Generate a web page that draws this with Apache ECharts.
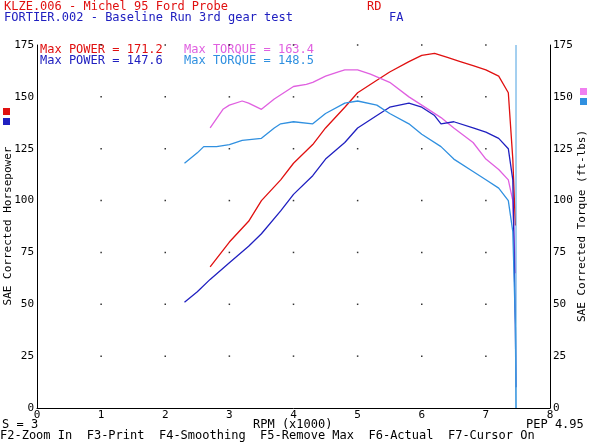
<!DOCTYPE html><html><head><meta charset="utf-8"><script src="https://cdn.jsdelivr.net/npm/echarts@6/dist/echarts.min.js"></script>
<style>html,body{margin:0;background:#fff}#c{width:590px;height:442px}</style></head><body><div id="c"></div><script>
const xTicks=[0,1,2,3,4,5,6,7,8];
const yTicks=[0,25,50,75,100,125,150,175];
const rpmRedP=[2.7,3.0,3.3,3.5,3.8,4.0,4.3,4.5,4.8,5.0,5.3,5.5,5.8,6.0,6.2,6.4,6.6,6.8,7.0,7.2,7.35,7.42,7.46];
const redPower=[68,80,90,100,110,118,127,135,145,152,158,162,167,170,171,169,167,165,163,160,152,120,88];
const rpmMagT=[2.7,2.9,3.0,3.2,3.3,3.5,3.7,4.0,4.2,4.3,4.5,4.7,4.8,5.0,5.2,5.5,5.8,6.0,6.3,6.5,6.8,7.0,7.2,7.35,7.42,7.46];
const magTorque=[135,144,146,148,147,144,149,155,156,157,160,162,163,163,161,157,150,146,140,135,128,120,115,110,100,65];
const rpmBlueP=[2.3,2.5,2.7,3.0,3.3,3.5,3.8,4.0,4.3,4.5,4.8,5.0,5.3,5.5,5.8,6.0,6.2,6.3,6.5,6.8,7.0,7.2,7.35,7.42,7.46,7.47];
const bluePower=[51,56,62,70,78,84,95,103,112,120,128,135,141,145,147,145,141,137,138,135,133,130,125,110,40,10];
const rpmCyanT=[2.3,2.5,2.6,2.8,3.0,3.2,3.5,3.7,3.8,4.0,4.3,4.5,4.8,5.0,5.3,5.5,5.8,6.0,6.3,6.5,6.8,7.0,7.2,7.35,7.42,7.46,7.47];
const cyanTorque=[118,123,126,126,127,129,130,135,137,138,137,142,147,148,146,142,137,132,126,120,114,110,106,100,85,40,0];
const pair=(xs,ys)=>xs.map((x,i)=>[x,ys[i]]);
const dots=[];xTicks.slice(1,-1).forEach(x=>yTicks.slice(1,-1).concat([175]).forEach(y=>dots.push([x,y])));
const F='"DejaVu Sans Mono", monospace';
const ax={type:'value',min:0,max:175,interval:25,axisLine:{show:true,lineStyle:{color:'#000'}},axisTick:{show:false},axisLabel:{color:'#000',fontFamily:F,fontSize:11,margin:3},splitLine:{show:false}};
const ch=echarts.init(document.getElementById('c'));
const txt=(l,t,s,c)=>({type:'text',left:l,top:t,style:{text:s,fill:c,font:'12px '+F}});
const vtxt=(x,y,s)=>({type:'text',x:x,y:y,rotation:Math.PI/2,style:{text:s,fill:'#000',font:'11px '+F,align:'center',verticalAlign:'middle'}});
ch.setOption({backgroundColor:'#fff',animation:false,
grid:{left:37,right:40,top:45,bottom:34,containLabel:false,outerBoundsMode:'none'},
xAxis:{type:'value',min:0,max:8,interval:1,axisLine:{lineStyle:{color:'#000'}},axisTick:{show:false},axisLabel:{color:'#000',fontFamily:F,fontSize:11,margin:2},splitLine:{show:false}},
yAxis:[Object.assign({},ax),Object.assign({},ax,{position:'right'})],
series:[
{type:'scatter',data:dots,symbol:'rect',symbolSize:1.5,itemStyle:{color:'#000'},silent:true},
{type:'line',data:pair(rpmRedP,redPower),showSymbol:false,lineStyle:{color:'#e01010',width:1.3}},
{type:'line',data:pair(rpmMagT,magTorque),showSymbol:false,lineStyle:{color:'#e060e0',width:1.3}},
{type:'line',data:pair(rpmBlueP,bluePower),showSymbol:false,lineStyle:{color:'#2020c0',width:1.3}},
{type:'line',data:pair(rpmCyanT,cyanTorque),showSymbol:false,lineStyle:{color:'#3090e0',width:1.3}},
{type:'line',data:[[7.47,0],[7.47,175]],showSymbol:false,lineStyle:{color:'#4aa0e0',width:1},silent:true}
],
graphic:[
txt(4,1,'KLZE.006 - Michel 95 Ford Probe','#e01010'),txt(367,1,'RD','#e01010'),
txt(4,12,'FORTIER.002 - Baseline Run 3rd gear test','#2020c0'),txt(389,12,'FA','#2020c0'),
txt(40,44,'Max POWER = 171.2','#e01010'),txt(184,44,'Max TORQUE = 163.4','#e060e0'),
txt(40,55,'Max POWER = 147.6','#2020c0'),txt(184,55,'Max TORQUE = 148.5','#3090e0'),
{type:'rect',shape:{x:3,y:108,width:7,height:7},style:{fill:'#e01010'}},
{type:'rect',shape:{x:3,y:118,width:7,height:7},style:{fill:'#2020c0'}},
{type:'rect',shape:{x:580,y:88,width:7,height:7},style:{fill:'#f080f0'}},
{type:'rect',shape:{x:580,y:98,width:7,height:7},style:{fill:'#3090e0'}},
vtxt(8,226,'SAE Corrected Horsepower'),vtxt(582,226,'SAE Corrected Torque (ft-lbs)'),
txt(2,419,'S = 3','#000'),txt(253,419,'RPM (x1000)','#000'),txt(526,419,'PEP 4.95','#000'),
txt(0,430,'F2-Zoom In  F3-Print  F4-Smoothing  F5-Remove Max  F6-Actual  F7-Cursor On','#000')
]});
</script></body></html>
